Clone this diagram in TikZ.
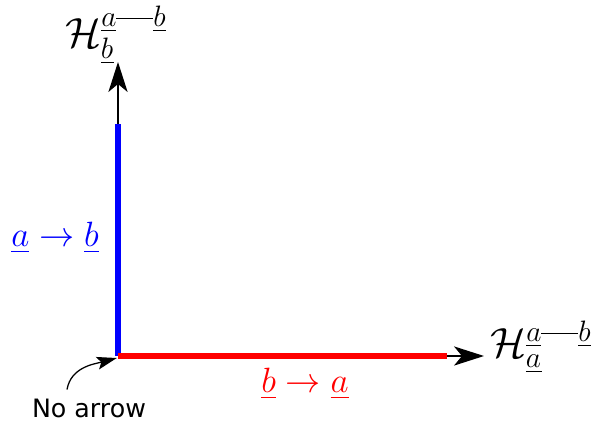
\RequirePackage{fix-cm}
\documentclass[tikz,border=0pt]{standalone}
\usepackage{amsmath}
\usepackage{fontspec}
\newfontfamily\labelfont{DejaVu Sans}
\usetikzlibrary{arrows.meta, calc}

% Link between the two states in the superscripts
\newcommand{\statelink}{\text{\rule[0.6ex]{1.25em}{0.7pt}}}

\begin{document}
\begin{tikzpicture}[x=1cm, y=1cm]
    % Define colours
    \definecolor{axisColour}{HTML}{000000}
    \definecolor{fromAColour}{HTML}{0000FF}
    \definecolor{fromBColour}{HTML}{FF0000}

    % Define styles
    \tikzset{
        axis/.style={draw=axisColour, line width=1pt, -{Stealth[length=0.75cm, width=0.48cm, inset=0.2cm]}},
        segment/.style={line width=4.8pt},
        axislabel/.style={font=\fontsize{30}{36}\selectfont, inner sep=0pt},
        pathlabel/.style={font=\fontsize{25}{30}\selectfont, inner sep=0pt}
    }

    % Fix the size of the picture
    \useasboundingbox (0,0) rectangle (14.8,10.55);

    % Define coordinates
    \coordinate (O) at (2.95,1.65);
    \coordinate (ytip) at (2.95,9.0);
    \coordinate (xtip) at (12.1,1.65);
    \coordinate (atop) at (2.95,7.45);
    \coordinate (bend) at (11.175,1.65);

    % Draw axes
    \draw[axis] (O) -- (ytip);
    \draw[axis] (O) -- (xtip);

    % Draw the coloured segments
    \draw[segment, fromAColour] (O) -- (atop);
    \draw[segment, fromBColour] (O) -- (bend);

    % Label the axes
    \node[axislabel, anchor=base west] (ylabel) at (1.625,9.375)
        {$\mathcal{H}_{\underline{b}}^{\underline{a}\statelink\underline{b}}$};
    \node[axislabel, anchor=base west] (xlabel) at (12.25,1.625)
        {$\mathcal{H}_{\underline{a}}^{\underline{a}\statelink\underline{b}}$};

    % Label the segments
    \node[pathlabel, text=fromAColour] (alabel) at (1.375,4.6)
        {$\underline{a}\rightarrow\underline{b}$};
    \node[pathlabel, text=fromBColour] (blabel) at (7.625,0.95)
        {$\underline{b}\rightarrow\underline{a}$};

    % Mark the origin
    \node[font=\labelfont\fontsize{18}{21}\selectfont, inner sep=0pt] (noarrow) at (2.225,0.35) {No arrow};
    \draw[line width=0.9pt, -{Stealth[length=0.5cm, width=0.32cm, inset=0.1cm]}]
        ($(noarrow.north)+(-0.55,0.22)$) to[out=80, in=195] ($(O)+(-0.03,-0.05)$);

\end{tikzpicture}
\end{document}
